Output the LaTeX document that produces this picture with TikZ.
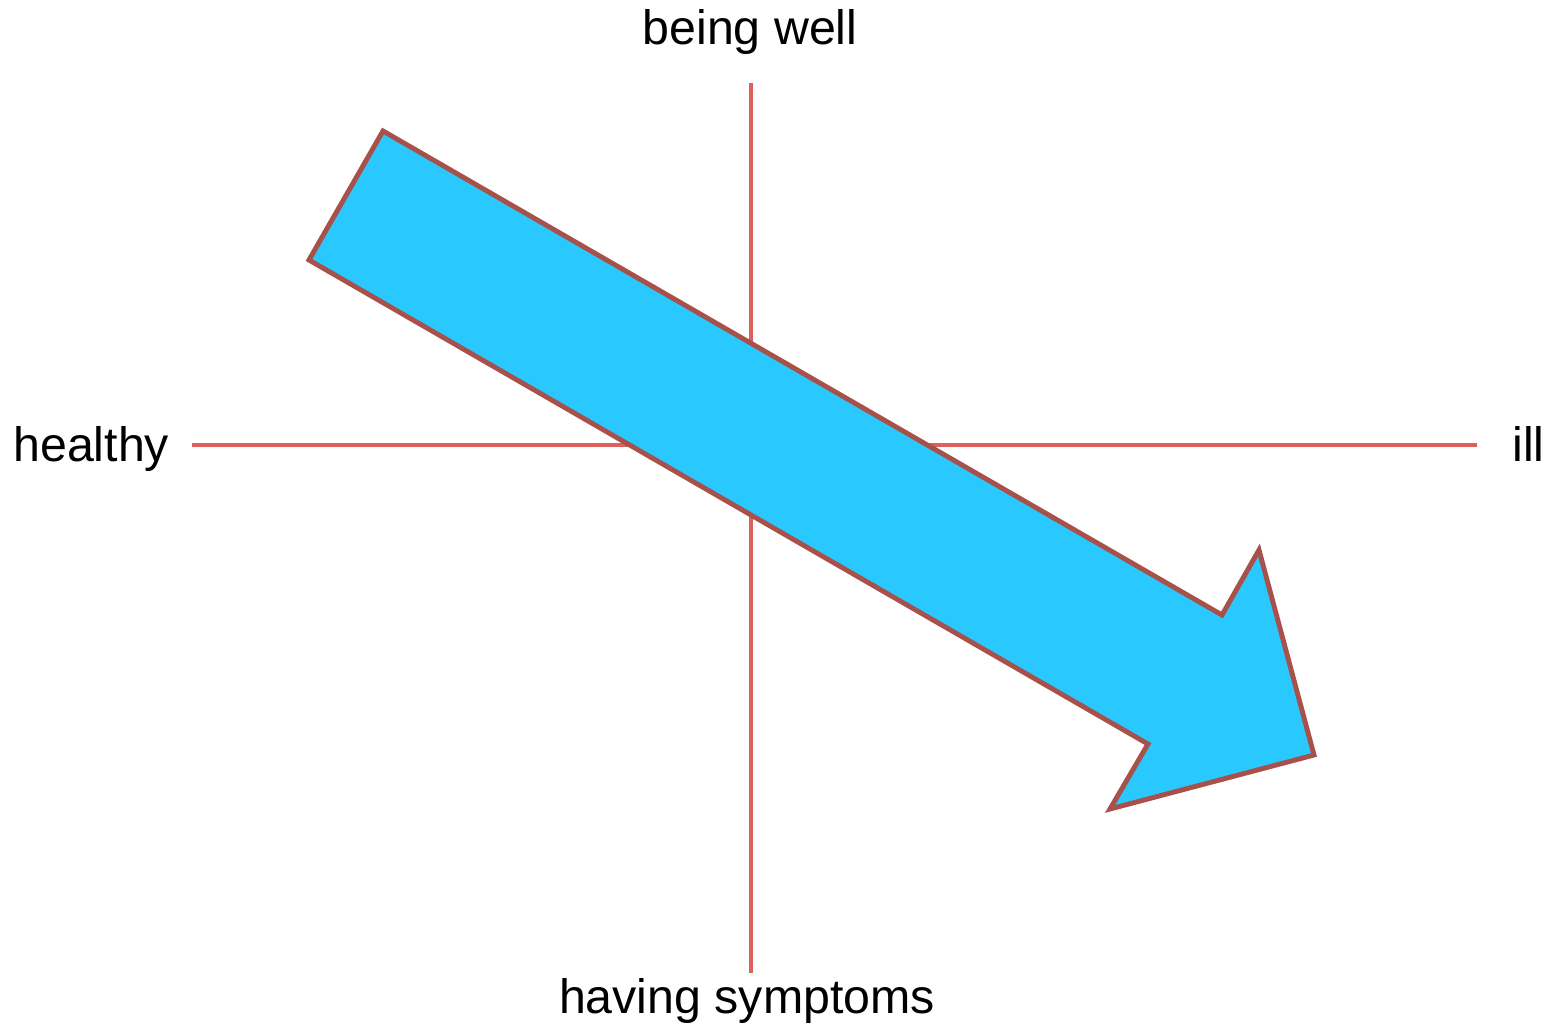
\documentclass[tikz,border=0pt]{standalone}
\usepackage{fontspec}
\setmainfont{Liberation Sans}
\usepackage{xcolor}
\usetikzlibrary{calc,positioning}

\definecolor{axisred}{RGB}{221,96,90}
\definecolor{arrowblue}{RGB}{41,201,255}
\definecolor{arrowedge}{RGB}{168,80,74}

\begin{document}
\begin{tikzpicture}[x=0.02cm,y=-0.02cm,
			axis/.style={draw=axisred,line width=2.3pt},
			bigarrow/.style={fill=arrowblue,draw=arrowedge,line width=2.8pt,line join=miter},
			lbl/.style={font=\fontsize{27.5}{33}\selectfont,inner sep=0pt},
			]
			% 画布
			\useasboundingbox (0,0) rectangle (1546,1026);
			
			% 标签
			\node[lbl,anchor=base] (well) at (750,45) {being well};
			\node[lbl,anchor=base] (symp) at (747,1013) {having symptoms};
			\node[lbl,anchor=base west] (healthy) at (13,462) {healthy};
			\node[lbl,anchor=base west] (ill) at (1512,462) {ill};
			
			% 坐标轴端点
			\coordinate (T) at (751,83);
			\coordinate (B) at (751,973);
			\coordinate (L) at (192,445);
			\coordinate (R) at (1477,445);
			\draw[axis] (T)--(B);
			\draw[axis] (L)--(R);
			
			% 箭头顶点
			\coordinate (A1) at (383,131);
			\coordinate (A2) at (1222,615);
			\coordinate (A3) at (1259,550);
			\coordinate (A4) at (1314,755);
			\coordinate (A5) at (1110,809);
			\coordinate (A6) at (1148,744);
			\coordinate (A7) at (309,260);
			\draw[bigarrow] (A1)--(A2)--(A3)--(A4)--(A5)--(A6)--(A7)--cycle;
		\end{tikzpicture}
\end{document}
